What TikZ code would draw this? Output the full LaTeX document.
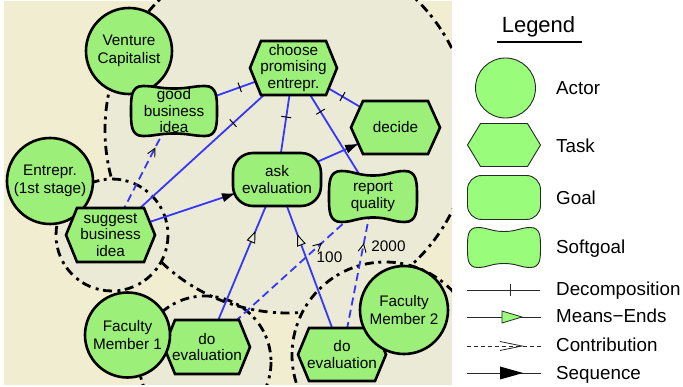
\documentclass[tikz,border=0pt]{standalone}
\usepackage{fontspec}
\setmainfont{Liberation Sans}
\usetikzlibrary{decorations.markings}

\definecolor{paper}{RGB}{241,237,208}
\definecolor{realm}{RGB}{235,234,214}
\definecolor{istar}{RGB}{156,240,122}
\definecolor{keygreen}{RGB}{153,252,122}
\definecolor{linkblue}{RGB}{55,55,250}
\definecolor{keyline}{RGB}{40,40,40}

\pgfdeclarelayer{ground}
\pgfdeclarelayer{links}
\pgfsetlayers{ground,links,main}

\tikzset{
  txt/.style={font=\fontsize{15.3}{16.5}\selectfont, align=center, inner sep=0pt},
  outline/.style={draw=black, line width=2.6pt, fill=istar},
  keyoutline/.style={draw=keyline, line width=0.9pt, fill=keygreen},
  actor/.style={outline, circle, minimum size=#1, txt, font=\fontsize{15.3}{18.5}\selectfont},
  goal/.style={outline, rectangle, rounded corners=20pt, minimum width=88pt, minimum height=53pt, txt},
  nodetext/.style={rectangle, draw=none, fill=none, txt},
  boundary/.style={draw=black, line width=2.8pt, dash pattern=on 9pt off 4.5pt on 3pt off 5.5pt},
  ilink/.style={draw=linkblue, line width=1.8pt},
  decomp/.style={ilink, postaction={decorate, decoration={markings,
      mark=at position #1 with {\draw[draw=black, solid, line width=1pt] (0,-5pt) -- (0,5pt);}}}},
  meansend/.style={ilink, postaction={decorate, decoration={markings,
      mark=at position #1 with {\draw[draw=black, fill=realm, solid, line width=0.9pt] (5pt,0) -- (-5pt,4pt) -- (-5pt,-4pt) -- cycle;}}}},
  contrib/.style={ilink, dash pattern=on 8pt off 4.5pt, postaction={decorate, decoration={markings,
      mark=at position #1 with {\draw[draw=black, solid, line width=0.9pt] (-4pt,4pt) -- (4pt,0) -- (-4pt,-4pt);}}}},
  sequence/.style={ilink, postaction={decorate, decoration={markings,
      mark=at position #1 with {\fill[fill=black] (0,0) -- (-12pt,4.5pt) -- (-12pt,-4.5pt) -- cycle;}}}},
  keylink/.style={draw=keyline, line width=0.9pt},
  keydecomp/.style={keylink, postaction={decorate, decoration={markings,
      mark=at position #1 with {\draw[draw=keyline, solid, line width=0.9pt] (0,-6pt) -- (0,6pt);}}}},
  keymeans/.style={keylink, postaction={decorate, decoration={markings,
      mark=at position #1 with {\draw[draw=keyline, fill=keygreen, solid, line width=0.8pt] (0,0) -- (-20pt,6pt) -- (-20pt,-6pt) -- cycle;}}}},
  keycontrib/.style={keylink, dash pattern=on 4pt off 3pt, postaction={decorate, decoration={markings,
      mark=at position #1 with {\draw[draw=keyline, solid, line width=0.8pt] (-22pt,4.5pt) -- (0,0) -- (-22pt,-4.5pt);}}}},
  keyseq/.style={keylink, postaction={decorate, decoration={markings,
      mark=at position #1 with {\fill[fill=black] (0,0) -- (-23pt,6.5pt) -- (-23pt,-6.5pt) -- cycle;}}}},
  keylabel/.style={font=\fontsize{18.8}{21}\selectfont, anchor=base west, inner sep=0pt},
}

% task: hexagon with pointed left and right ends
% [style]{name}{cx}{cy}{width}{height}{inset}{text}
\newcommand\tasknode[8][outline]{%
  \filldraw[#1] ({#3-#5/2},#4) -- ({#3-#5/2+#7},{#4-#6/2}) -- ({#3+#5/2-#7},{#4-#6/2})
    -- ({#3+#5/2},#4) -- ({#3+#5/2-#7},{#4+#6/2}) -- ({#3-#5/2+#7},{#4+#6/2}) -- cycle;
  \node[nodetext, minimum width=#5pt, minimum height=#6pt] (#2) at (#3,#4) {#8};
}

% softgoal: rounded box whose top and bottom sag in the middle
% [style]{name}{cx}{cy}{width}{height}{dip}{text}
\newcommand\softgoalnode[8][outline]{%
  \pgfmathsetmacro\sgA{#5/2}\pgfmathsetmacro\sgB{#6/2}\pgfmathsetmacro\sgD{#7}%
  \filldraw[#1, shift={(#3,#4)}]
    (0,{-\sgB+\sgD}) .. controls ({0.35*\sgA},{-\sgB+\sgD}) and ({0.45*\sgA},{-\sgB}) .. ({0.72*\sgA},{-\sgB})
    .. controls ({\sgA},{-\sgB}) and ({\sgA},{-0.55*\sgB}) .. ({\sgA},0)
    .. controls ({\sgA},{0.55*\sgB}) and ({\sgA},{\sgB}) .. ({0.72*\sgA},{\sgB})
    .. controls ({0.45*\sgA},{\sgB}) and ({0.35*\sgA},{\sgB-\sgD}) .. (0,{\sgB-\sgD})
    .. controls ({-0.35*\sgA},{\sgB-\sgD}) and ({-0.45*\sgA},{\sgB}) .. ({-0.72*\sgA},{\sgB})
    .. controls ({-\sgA},{\sgB}) and ({-\sgA},{0.55*\sgB}) .. ({-\sgA},0)
    .. controls ({-\sgA},{-0.55*\sgB}) and ({-\sgA},{-\sgB}) .. ({-0.72*\sgA},{-\sgB})
    .. controls ({-0.45*\sgA},{-\sgB}) and ({-0.35*\sgA},{-\sgB+\sgD}) .. (0,{-\sgB+\sgD}) -- cycle;
  \node[nodetext, minimum width=#5pt, minimum height=#6pt] (#2) at (#3,#4) {#8};
}

\begin{document}
\begin{tikzpicture}[x=1pt, y=-1pt]
\useasboundingbox (0,0) rectangle (683,387);

% ---------- paper and actor boundaries ----------
\begin{pgfonlayer}{ground}
  \fill[white] (0,0) rectangle (683,387);
  \fill[paper] (4,1) rectangle (452,385);
  \begin{scope}
    \clip (4,1) rectangle (452,385);
    % interiors first, so the outlines of crossing boundaries stay visible
    \fill[realm] (288,130) circle[radius=183];
    \fill[realm] (205,362) circle[radius=66];
    \draw[boundary] (288,130) circle[radius=183];        % Venture Capitalist
    \draw[boundary] (205,362) circle[radius=66];         % Faculty Member 1
    \filldraw[boundary, fill=realm] (112,235) circle[radius=56];  % Entrepreneur
    \filldraw[boundary, fill=realm] (385,355) circle[radius=93];  % Faculty Member 2
  \end{scope}
\end{pgfonlayer}

% ---------- actors and intentional elements ----------
\node[actor=86pt] (vc) at (129,51) {Venture\\Capitalist};
\softgoalnode{gbi}{174}{111}{86}{50}{2.5}{good\\business\\idea}
\node[actor=86pt] (ent) at (50,181) {Entrepr.\\(1st stage)};
\tasknode{sbi}{110.5}{235}{89}{54}{11}{suggest\\business\\idea}
\tasknode{cpe}{293.5}{68}{87}{54}{11}{choose\\promising\\entrepr.}
\tasknode{dec}{395.5}{127.5}{89}{53}{12}{decide}
\node[goal] (ask) at (277,179.5) {ask\\evaluation};
\softgoalnode{rq}{373}{196.5}{88}{51}{4.5}{report\\quality}
\tasknode{ev1}{207}{347}{86}{54}{11}{do\\evaluation}
\node[actor=85pt] (fm1) at (127.5,335) {Faculty\\Member 1};
\tasknode{ev2}{342}{354.5}{88}{53}{11}{do\\evaluation}
\node[actor=88pt] (fm2) at (404,310) {Faculty\\Member 2};

\node[txt] (w100) at (329.5,257) {100};
\node[txt] (w2000) at (388.5,246.5) {2000};

% ---------- links ----------
\begin{pgfonlayer}{links}
  \draw[decomp=0.45] (cpe.center) -- (gbi.center);
  \draw[decomp=0.33] (cpe.center) -- (sbi.center);
  \draw[decomp=0.44] (cpe.center) -- (ask.center);
  \draw[decomp=0.34] (cpe.center) -- (rq.center);
  \draw[decomp=0.48] (cpe.center) -- (dec.center);
  \draw[sequence=0.742] (sbi.center) -- (ask.center);
  \draw[sequence=0.678] (ask.center) -- (dec.center);
  \draw[contrib=0.67] (sbi.center) -- (gbi.center);
  \draw[contrib=0.67] (ev1.center) -- (rq.center);
  \draw[contrib=0.674] (ev2.center) -- (rq.center);
  \draw[meansend=0.657] (ev1.center) -- (ask.center);
  \draw[meansend=0.654] (ev2.center) -- (ask.center);
\end{pgfonlayer}

% ---------- legend ----------
\node[font=\fontsize{22}{24}\selectfont, anchor=base, inner sep=0pt] (keytitle) at (538.5,33) {Legend};
\draw[line width=1.1pt] (497,42) -- (582,42);

\node[keyoutline, circle, minimum size=60pt] (keyactor) at (505.5,88) {};
\tasknode[keyoutline]{keytask}{504}{145}{73}{43}{13}{}
\node[keyoutline, rectangle, rounded corners=14pt, minimum width=73pt, minimum height=44pt] (keygoal) at (504,197.5) {};
\softgoalnode[keyoutline]{keysoft}{504}{247.5}{73}{40}{4}{}

\coordinate (kd1) at (467,290);  \coordinate (kd2) at (540,290);
\coordinate (km1) at (467,317);  \coordinate (km2) at (541,317);
\coordinate (kc1) at (467,346);  \coordinate (kc2) at (541,346);
\coordinate (ks1) at (467,373);  \coordinate (ks2) at (541,373);
\draw[keydecomp=0.59] (kd1) -- (kd2);
\draw[keymeans=0.743] (km1) -- (km2);
\draw[keycontrib=0.743] (kc1) -- (kc2);
\draw[keyseq=0.757] (ks1) -- (ks2);

\node[keylabel] (kl1) at (556,95) {Actor};
\node[keylabel] (kl2) at (556,153) {Task};
\node[keylabel] (kl3) at (556,205) {Goal};
\node[keylabel] (kl4) at (556,254) {Softgoal};
\node[keylabel] (kl5) at (556,296) {Decomposition};
\node[keylabel] (kl6) at (556,323) {Means−Ends};
\node[keylabel] (kl7) at (556,352) {Contribution};
\node[keylabel] (kl8) at (556,379) {Sequence};
\end{tikzpicture}
\end{document}
